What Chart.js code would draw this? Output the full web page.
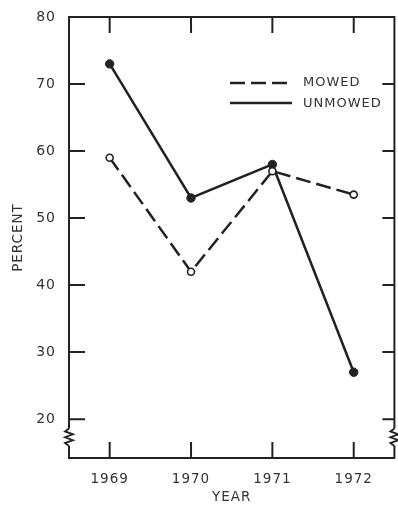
<!DOCTYPE html>
<html>
<head>
<meta charset="utf-8">
<script src="https://cdn.jsdelivr.net/npm/chart.js@4/dist/chart.umd.min.js"></script>
<style>
  html, body { margin: 0; padding: 0; background: #fff; overflow: hidden; }
  #wrap { width: 398px; height: 506px; overflow: hidden; }
</style>
</head>
<body>
<div id="wrap"><canvas id="chart" width="400" height="506"></canvas></div>
<script>
// Mowed vs unmowed percent by year
const years = [1969, 1970, 1971, 1972];
const mowed = [59, 42, 57, 53.5];
const unmowed = [73, 53, 58, 27];
const yTicks = [20, 30, 40, 50, 60, 70, 80];

const ink = '#222222';
const textInk = '#333333';
const font = "'DejaVu Sans', sans-serif";

// Inward ticks, top/right box, axis break marks and the legend
const framePlugin = {
    id: 'frame',
    beforeDraw(chart) {
        // the original lettering is widely spaced
        chart.ctx.letterSpacing = '1px';
    },
    afterDraw(chart) {
        const { ctx, chartArea: a, scales } = chart;
        const x = scales.x, y = scales.y;
        ctx.save();
        ctx.strokeStyle = ink;
        ctx.lineWidth = 2;

        // box
        ctx.beginPath();
        ctx.moveTo(a.left, a.top);
        ctx.lineTo(a.right, a.top);
        ctx.lineTo(a.right, a.bottom);
        ctx.stroke();

        // x ticks, bottom and top
        years.forEach(v => {
            const px = x.getPixelForValue(v);
            ctx.beginPath();
            ctx.moveTo(px, a.bottom);
            ctx.lineTo(px, a.bottom - 16);
            ctx.moveTo(px, a.top);
            ctx.lineTo(px, a.top + 16);
            ctx.stroke();
        });

        // y ticks, left and right
        yTicks.forEach(v => {
            if (v === 80) return;
            const py = y.getPixelForValue(v);
            ctx.beginPath();
            ctx.moveTo(a.left, py);
            ctx.lineTo(a.left + 16, py);
            ctx.moveTo(a.right, py);
            ctx.lineTo(a.right - 12, py);
            ctx.stroke();
        });

        // axis breaks
        const b0 = y.getPixelForValue(18.6), b1 = y.getPixelForValue(16.0);
        [a.left, a.right].forEach(ax => {
            ctx.fillStyle = '#fff';
            ctx.fillRect(ax - 3, b0, 6, b1 - b0);
            ctx.beginPath();
            ctx.lineWidth = 1.8;
            const n = 6;
            ctx.moveTo(ax, b0);
            for (let i = 1; i < n; i++) {
                ctx.lineTo(ax + (i % 2 ? -4 : 4), b0 + (b1 - b0) * i / n);
            }
            ctx.lineTo(ax, b1);
            ctx.stroke();
        });

        // legend
        ctx.lineWidth = 2.5;
        ctx.setLineDash([15, 6]);
        ctx.beginPath();
        ctx.moveTo(230, 83);
        ctx.lineTo(292, 83);
        ctx.stroke();
        ctx.setLineDash([]);
        ctx.beginPath();
        ctx.moveTo(230, 103);
        ctx.lineTo(292, 103);
        ctx.stroke();
        ctx.fillStyle = textInk;
        ctx.font = '13px ' + font;
        ctx.textBaseline = 'middle';
        ctx.fillText('MOWED', 303, 83);
        ctx.fillText('UNMOWED', 303, 104);
        ctx.restore();
    }
};

new Chart(document.getElementById('chart'), {
    type: 'line',
    data: {
        datasets: [
            {
                label: 'MOWED',
                data: years.map((yr, i) => ({ x: yr, y: mowed[i] })),
                borderColor: ink,
                borderWidth: 2.5,
                borderDash: [15, 6],
                pointRadius: 3.5,
                pointBorderWidth: 1.6,
                pointBackgroundColor: '#fff',
                pointBorderColor: ink,
                tension: 0
            },
            {
                label: 'UNMOWED',
                data: years.map((yr, i) => ({ x: yr, y: unmowed[i] })),
                borderColor: ink,
                borderWidth: 2.5,
                pointRadius: 4.2,
                pointBorderWidth: 1,
                pointBackgroundColor: ink,
                pointBorderColor: ink,
                tension: 0
            }
        ]
    },
    options: {
        responsive: false,
        animation: false,
        layout: { padding: { top: 17, right: 0, bottom: 0, left: 0 } },
        plugins: {
            legend: { display: false },
            tooltip: { enabled: false }
        },
        scales: {
            x: {
                type: 'linear',
                min: 1968.5,
                max: 1972.5,
                afterBuildTicks: s => { s.ticks = years.map(v => ({ value: v })); },
                afterFit: s => { s.height = 48; s.paddingLeft = 0; s.paddingRight = 0; },
                grid: { display: false, drawTicks: false },
                border: { display: true, color: ink, width: 2 },
                ticks: {
                    color: textInk,
                    font: { family: font, size: 13.5 },
                    padding: 13,
                    callback: v => String(v)
                },
                title: {
                    display: true,
                    text: 'YEAR',
                    color: textInk,
                    font: { family: font, size: 13.5 },
                    padding: { top: 2, bottom: 0 }
                }
            },
            y: {
                min: 14.2,
                max: 80,
                afterBuildTicks: s => { s.ticks = yTicks.map(v => ({ value: v })); },
                afterFit: s => { s.width = 69; s.paddingTop = 0; s.paddingBottom = 0; },
                grid: { display: false, drawTicks: false },
                border: { display: true, color: ink, width: 2 },
                ticks: {
                    color: textInk,
                    font: { family: font, size: 14 },
                    padding: 13,
                    callback: v => String(v)
                },
                title: {
                    display: true,
                    text: 'PERCENT',
                    color: textInk,
                    font: { family: font, size: 13.5 },
                    padding: { top: 10, bottom: 4 }
                }
            }
        }
    },
    plugins: [framePlugin]
});
</script>
</body>
</html>
